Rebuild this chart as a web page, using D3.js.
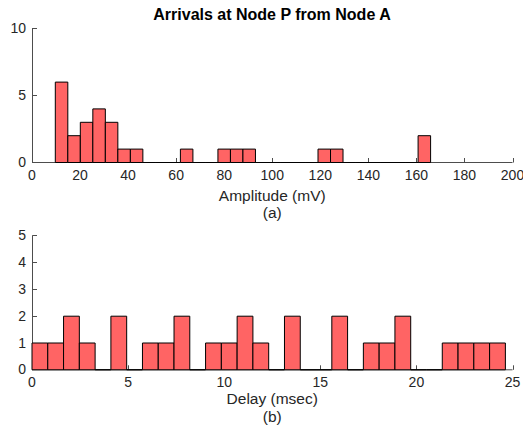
<!DOCTYPE html>
<html>
<head>
<meta charset="utf-8">
<script src="https://cdn.jsdelivr.net/npm/d3@7"></script>
<style>
  html, body { margin: 0; padding: 0; background: #fff; }
  svg { display: block; }
  text { font-family: "Liberation Sans", Arial, Helvetica, sans-serif; fill: #262626; }
</style>
</head>
<body>
<svg id="fig" width="523" height="429"></svg>
<script>
// Histogram of arrival amplitudes (30 equal bins)
const amplitudeCounts = [6, 2, 3, 4, 3, 1, 1, 0, 0, 0, 1, 0, 0, 1, 1, 1, 0, 0, 0, 0, 0, 1, 1, 0, 0, 0, 0, 0, 0, 2];
const amplitudeBinStart = 9.7;
const amplitudeBinWidth = 5.207;
const amplitudeXTicks = [0, 20, 40, 60, 80, 100, 120, 140, 160, 180, 200];
const amplitudeYTicks = [0, 5, 10];

// Histogram of arrival delays (30 equal bins)
const delayCounts = [1, 1, 2, 1, 0, 2, 0, 1, 1, 2, 0, 1, 1, 2, 1, 0, 2, 0, 0, 2, 0, 1, 1, 2, 0, 0, 1, 1, 1, 1];
const delayBinStart = 0;
const delayBinWidth = 0.821;
const delayXTicks = [0, 5, 10, 15, 20, 25];
const delayYTicks = [0, 1, 2, 3, 4, 5];

const svg = d3.select("#fig");
const axisColor = "#4d4d4d";
const barFill = "#ff6464";

function drawPanel(opts) {
  const { top, bottom, left, right, xDomain, yDomain, counts, start, width,
          xTicks, yTicks, xLabel, caption, labelDy, captionDy } = opts;
  const x = d3.scaleLinear().domain(xDomain).range([left, right]);
  const y = d3.scaleLinear().domain(yDomain).range([bottom, top]);
  const g = svg.append("g");

  // axis lines
  g.append("line").attr("x1", left).attr("x2", right)
    .attr("y1", bottom + 0.5).attr("y2", bottom + 0.5)
    .attr("stroke", axisColor).attr("stroke-width", 1);
  g.append("line").attr("x1", left + 0.5).attr("x2", left + 0.5)
    .attr("y1", top).attr("y2", bottom + 0.5)
    .attr("stroke", axisColor).attr("stroke-width", 1);

  // inward ticks
  const tl = 4.5;
  g.selectAll(".xt").data(xTicks).join("line")
    .attr("x1", d => Math.round(x(d)) + 0.5).attr("x2", d => Math.round(x(d)) + 0.5)
    .attr("y1", bottom + 0.5).attr("y2", bottom + 0.5 - tl)
    .attr("stroke", axisColor);
  g.selectAll(".yt").data(yTicks).join("line")
    .attr("x1", left + 0.5).attr("x2", left + 0.5 + tl)
    .attr("y1", d => Math.round(y(d)) + 0.5).attr("y2", d => Math.round(y(d)) + 0.5)
    .attr("stroke", axisColor);

  // tick labels
  g.selectAll(".xl").data(xTicks).join("text")
    .attr("x", d => x(d)).attr("y", bottom + 17.5)
    .attr("text-anchor", "middle").attr("font-size", 14)
    .text(d => d);
  g.selectAll(".yl").data(yTicks).join("text")
    .attr("x", left - 6).attr("y", d => y(d) + 5)
    .attr("text-anchor", "end").attr("font-size", 14)
    .text(d => d);

  // bars, including empty bins drawn as flat outlines
  const bins = counts.map((c, i) => ({ x0: start + i * width, x1: start + (i + 1) * width, c }));
  g.selectAll(".bar").data(bins).join("path")
    .attr("d", d => {
      const x0 = x(d.x0), x1 = x(d.x1), y0 = y(0) + 0.5, y1 = y(d.c) + 0.5;
      return `M${x0},${y0}V${y1}H${x1}V${y0}Z`;
    })
    .attr("fill", barFill).attr("stroke", "#000").attr("stroke-width", 1);

  // axis label and caption
  const cx = (left + right) / 2;
  g.append("text").attr("x", cx).attr("y", bottom + labelDy)
    .attr("text-anchor", "middle").attr("font-size", 15.5).text(xLabel);
  g.append("text").attr("x", cx).attr("y", bottom + captionDy)
    .attr("text-anchor", "middle").attr("font-size", 15.5).text(caption);
}

drawPanel({
  top: 28, bottom: 162, left: 32, right: 512.5,
  xDomain: [0, 200], yDomain: [0, 10],
  counts: amplitudeCounts, start: amplitudeBinStart, width: amplitudeBinWidth,
  xTicks: amplitudeXTicks, yTicks: amplitudeYTicks,
  xLabel: "Amplitude (mV)", caption: "(a)", labelDy: 38.5, captionDy: 56
});

drawPanel({
  top: 235.3, bottom: 369.3, left: 32, right: 512.5,
  xDomain: [0, 25], yDomain: [0, 5],
  counts: delayCounts, start: delayBinStart, width: delayBinWidth,
  xTicks: delayXTicks, yTicks: delayYTicks,
  xLabel: "Delay (msec)", caption: "(b)", labelDy: 35, captionDy: 53
});

svg.append("text").attr("x", 272).attr("y", 19.5)
  .attr("text-anchor", "middle").attr("font-size", 16).attr("font-weight", "bold")
  .style("fill", "#000")
  .text("Arrivals at Node P from Node A");
</script>
</body>
</html>
